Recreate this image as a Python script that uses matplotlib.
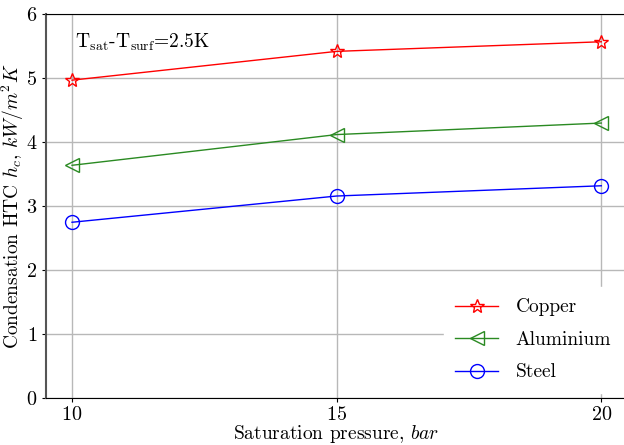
import matplotlib
matplotlib.use("Agg")
import matplotlib.pyplot as plt

plt.rcParams['font.family'] = 'serif'
plt.rcParams['font.serif'] = ['cmr10']
plt.rcParams['mathtext.fontset'] = 'cm'
plt.rcParams['axes.unicode_minus'] = False
plt.rcParams['axes.formatter.use_mathtext'] = True

# saturation pressure (bar) and condensation HTC (kW/m2K)
pressure = [10, 15, 20]
copper = [4.97, 5.42, 5.57]
aluminium = [3.64, 4.12, 4.30]
steel = [2.75, 3.16, 3.32]

fig = plt.figure(figsize=(6.24, 4.45), dpi=100)
ax = fig.add_axes([0.073, 0.105, 0.933, 0.863])

ax.plot(pressure, copper, color='red', lw=1, marker='*', ms=10, mfc='none', label='Copper')
ax.plot(pressure, aluminium, color='#2a8a22', lw=1, marker='<', ms=10, mfc='none', label='Aluminium')
ax.plot(pressure, steel, color='blue', lw=1, marker='o', ms=10, mfc='none', label='Steel')

ax.set_xlim(9.5, 20.5)
ax.set_ylim(0, 6)
ax.set_xticks([10, 15, 20])
ax.set_yticks([0, 1, 2, 3, 4, 5, 6])
ax.tick_params(length=3, width=0.8, labelsize=14.5, pad=3)
ax.tick_params(axis='x', pad=2.5)
ax.grid(True, color='#b8b8b8', lw=1)
ax.spines['right'].set_visible(False)
ax.spines['left'].set_color('#555555')
ax.spines['left'].set_linewidth(1.5)

ax.set_xlabel('Saturation pressure, $bar$', fontsize=14, labelpad=-0.5)
ax.set_ylabel('Condensation HTC $h_c$, $kW/m^2K$', fontsize=14, labelpad=0)

ax.text(0.05, 0.955, r'$\mathrm{T_{sat}}$-$\mathrm{T_{surf}}$=2.5K', transform=ax.transAxes,
        fontsize=14, va='top', ha='left')

leg = ax.legend(loc='lower right', fontsize=14, frameon=True, fancybox=False,
                edgecolor='white', framealpha=1, handlelength=2.2, handletextpad=0.9,
                labelspacing=0.75, borderpad=0.6, bbox_to_anchor=(1.008, -0.012))

fig.savefig('out.png', dpi=100)
